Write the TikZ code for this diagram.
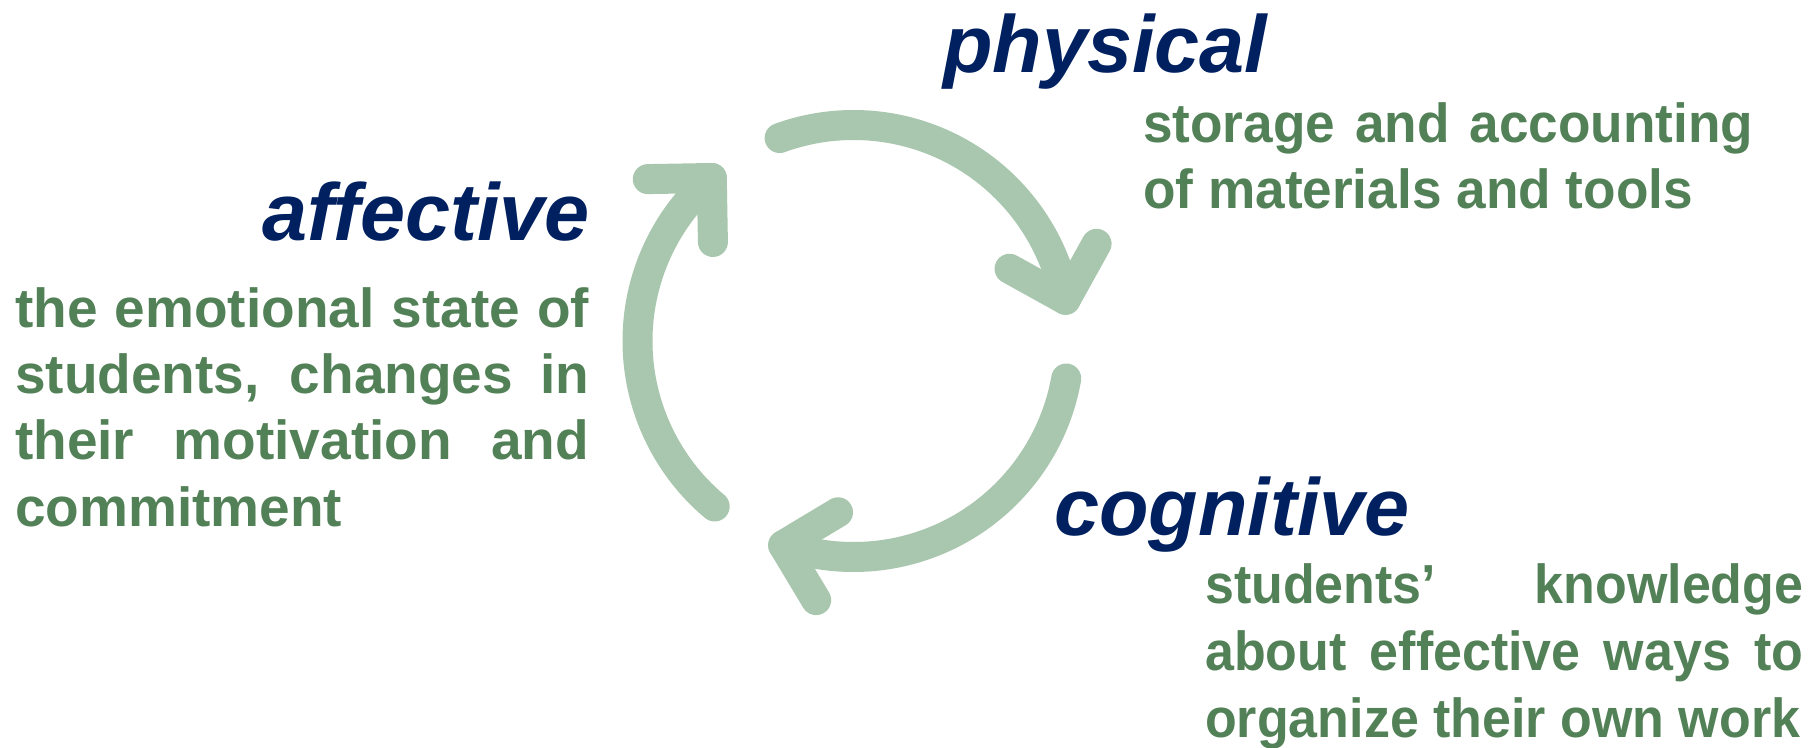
\documentclass[tikz,border=0pt]{standalone}
\usepackage{fontspec}
\usepackage{graphicx}
\setmainfont{Liberation Sans}
\definecolor{cycgreen}{RGB}{169,199,174}
\definecolor{bodygreen}{RGB}{83,129,87}
\definecolor{headblue}{RGB}{0,32,96}
\begin{document}
\begin{tikzpicture}[x=1pt,y=1pt,
  cyc/.style={draw=cycgreen, line width=30pt, line cap=round, line join=round},
  bodytext/.style={font=\bfseries\fontsize{55}{66}\selectfont, text=bodygreen, inner sep=0pt, anchor=base west},
  headtext/.style={font=\bfseries\itshape\fontsize{81}{84}\selectfont, text=headblue, inner sep=0pt}]
\useasboundingbox (0,0) rectangle (1812,-747);

% cycle of three arrows
\foreach \k in {0,1,2}{
  \begin{scope}[shift={(853.5,-341)}, rotate=-120*\k]
    \coordinate (s\k) at (110:216);
    \coordinate (v\k) at (11:216);
    \coordinate (p\k) at (243.06,97.19);
    \coordinate (q\k) at (156.05,72.24);
    \draw[cyc] (s\k) arc[start angle=110, end angle=11, radius=216];
    \draw[cyc] (p\k) -- (v\k) -- (q\k);
  \end{scope}
}

% headings
\node[headtext, anchor=base west] (physical) at (943,-72) {physical};
\node[headtext, anchor=base east] (affective) at (590,-240) {affective};
\node[headtext, anchor=base west] (cognitive) at (1054,-535) {cognitive};

% physical text
\node[bodytext] (ph1) at (1143,-142) {\scalebox{0.967}[1]{\makebox[631pt][s]{storage and accounting}}};
\node[bodytext] (ph2) at (1143,-208) {\scalebox{0.967}[1]{of materials and tools}};

% affective text
\node[bodytext] (af1) at (15,-327) {\makebox[574pt][s]{the emotional state of}};
\node[bodytext] (af2) at (15,-393) {\makebox[574pt][s]{students, changes in}};
\node[bodytext] (af3) at (15,-459) {\makebox[574pt][s]{their motivation and}};
\node[bodytext] (af4) at (15,-526) {commitment};

% cognitive text
\node[bodytext] (cg1) at (1205,-603) {\scalebox{0.945}[1]{\makebox[633pt][s]{students’ knowledge}}};
\node[bodytext] (cg2) at (1205,-670) {\scalebox{0.945}[1]{\makebox[633pt][s]{about effective ways to}}};
\node[bodytext] (cg3) at (1205,-737) {\scalebox{0.945}[1]{organize their own work}};
\end{tikzpicture}
\end{document}
